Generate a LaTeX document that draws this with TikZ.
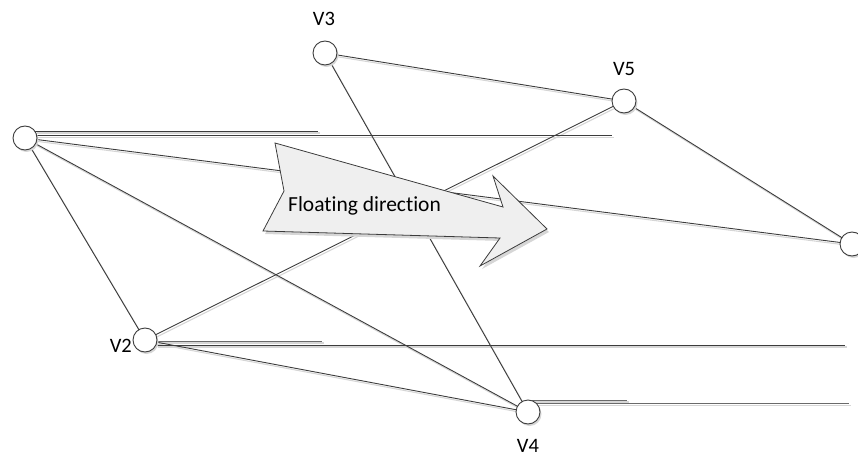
\documentclass[tikz,border=0pt]{standalone}
\usepackage{fontspec}
\setmainfont[Ligatures=NoCommon]{Carlito}
\usetikzlibrary{calc}
\begin{document}
\begin{tikzpicture}[x=1pt,y=-1pt,
  edge/.style={draw=linegray,line width=0.9pt},
  shadowline/.style={draw=shadegray,line width=1.1pt},
  vertex/.style={circle,draw=linegray,fill=white,line width=0.9pt,minimum size=24pt,inner sep=0pt},
  vshadow/.style={circle,fill=shadegray,minimum size=24pt,inner sep=0pt},
  vlabel/.style={font=\fontsize{20.5}{20.5}\selectfont,text=black,inner sep=0pt}]
\definecolor{linegray}{HTML}{3C3C3C}
\definecolor{hgray}{HTML}{6A6A6A}
\definecolor{shadegray}{HTML}{D6D6D6}
\definecolor{arrowfill}{HTML}{EFEFEF}
\useasboundingbox (0,0) rectangle (858,457);

% vertex positions
\coordinate (p1) at (25,138);
\coordinate (p2) at (145,340);
\coordinate (p3) at (325,53);
\coordinate (p4) at (528,412);
\coordinate (p5) at (624,101);
\coordinate (p6) at (852,244);

% free ends of the horizontal strokes
\coordinate (h1a) at (318,131);
\coordinate (h1b) at (612,135.5);
\coordinate (h2a) at (322,341);
\coordinate (h2b) at (845,345);
\coordinate (h4a) at (627,400);
\coordinate (h4b) at (849,403.5);

% shadows of the connectors
\begin{scope}[transform canvas={shift={(1.5pt,-2pt)}}]
  \foreach \a/\b in {p1/p2,p1/p4,p1/p6,p3/p5,p3/p4,p5/p6,p5/p2,p2/p4}
    \draw[shadowline] (\a) -- (\b);
  \draw[shadowline] ($(p1)+(10,-7)$) -- (h1a);
  \draw[shadowline] ($(p1)+(11,-2.5)$) -- (h1b);
  \draw[shadowline] ($(p2)+(12,1)$) -- (h2a);
  \draw[shadowline] ($(p2)+(11,5)$) -- (h2b);
  \draw[shadowline] ($(p4)+(4,-12)$) -- (h4a);
  \draw[shadowline] ($(p4)+(8,-8.5)$) -- (h4b);
\end{scope}

% connectors
\foreach \a/\b in {p1/p2,p1/p4,p1/p6,p3/p5,p3/p4,p5/p6,p5/p2,p2/p4}
  \draw[edge] (\a) -- (\b);
\draw[edge] ($(p1)+(10,-7)$) -- (h1a);
\draw[edge] ($(p1)+(11,-2.5)$) -- (h1b);
\draw[edge,draw=hgray] ($(p2)+(12,1)$) -- (h2a);
\draw[edge] ($(p2)+(11,5)$) -- (h2b);
\draw[edge,draw=hgray] ($(p4)+(4,-12)$) -- (h4a);
\draw[edge,draw=hgray] ($(p4)+(8,-8.5)$) -- (h4b);

% direction arrow
\fill[shadegray] (277,146) -- (505,210) -- (495,179) -- (549,232) -- (482,269)
  -- (502,241) -- (265,234) -- (286,193) -- cycle;
\draw[draw=linegray,fill=arrowfill,line width=0.8pt,line join=miter]
  (275,143) -- (503,207) -- (493,176) -- (547,229) -- (480,266)
  -- (500,238) -- (263,231) -- (284,191) -- cycle;
\node[anchor=base west,inner sep=0pt,font=\fontsize{21.5}{21.5}\selectfont] (fd) at (288,211) {Floating direction};

% vertices
\foreach \p in {p1,p2,p3,p4,p5,p6}
  \node[vshadow] at ($(\p)+(1.5,2)$) {};
\node[vertex] (V1) at (p1) {};
\node[vertex] (V2) at (p2) {};
\node[vertex] (V3) at (p3) {};
\node[vertex] (V4) at (p4) {};
\node[vertex] (V5) at (p5) {};
\node[vertex] (V6) at (p6) {};

% labels
\node[vlabel] (l3) at (324,19) {V3};
\node[vlabel] (l5) at (624,69) {V5};
\node[vlabel,anchor=east] (l2) at (132,346) {V2};
\node[vlabel] (l4) at (528,446) {V4};
\end{tikzpicture}
\end{document}
